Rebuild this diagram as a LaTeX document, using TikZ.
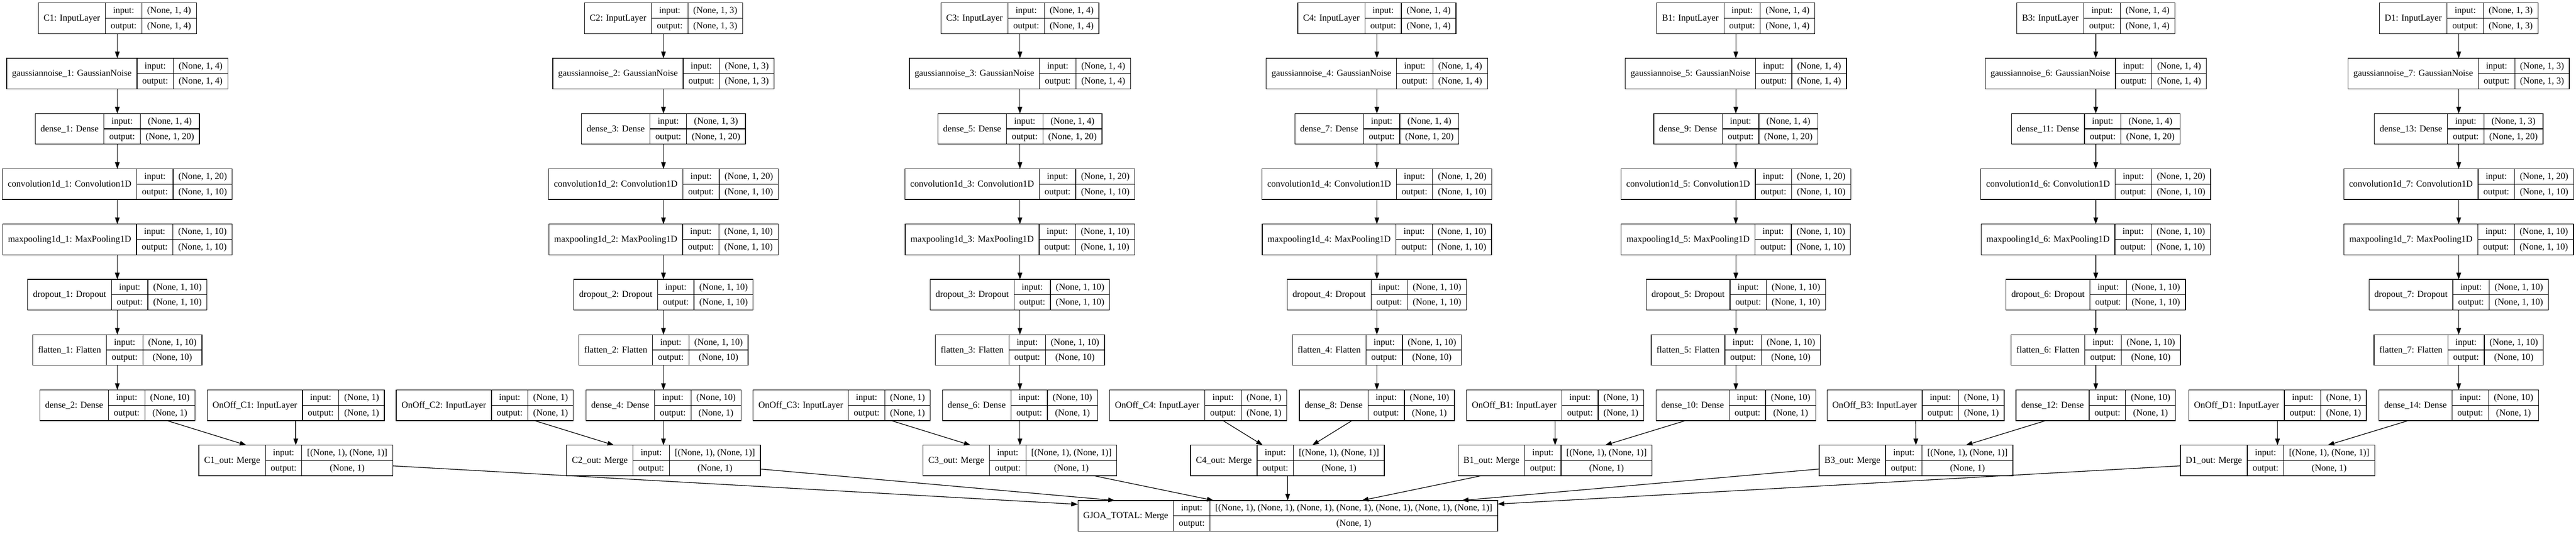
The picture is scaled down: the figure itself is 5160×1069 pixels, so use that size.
\documentclass[tikz,border=0pt]{standalone}
\usepackage{fontspec}
\setmainfont{Liberation Serif}
\usetikzlibrary{arrows.meta}
\newlength\recA
\newlength\recB
\newlength\recC
\newlength\recT
\newlength\recW
\newcommand\recfont{\fontsize{13.65}{16}\selectfont}
\tikzset{
  recbox/.style={draw, rectangle, line width=1pt, minimum height=46pt, inner sep=0pt, outer sep=0pt},
  rectxt/.style={inner sep=0pt, font=\recfont, text height=10pt, text depth=2pt, anchor=center},
  recline/.style={line width=1pt},
  arr/.style={line width=1pt, -{Triangle[length=10pt,width=7pt]}},
}
% measure a record (outside the picture): name, cx, cy, label, input shape, output shape
\newcommand\recmeasure[6]{%
  \settowidth\recA{\normalfont\recfont #4}\addtolength\recA{16pt}%
  \settowidth\recB{\normalfont\recfont output:}\addtolength\recB{16pt}%
  \settowidth\recC{\normalfont\recfont #5}\settowidth\recT{\normalfont\recfont #6}%
  \ifdim\recT>\recC \setlength\recC{\recT}\fi
  \addtolength\recC{16pt}%
  \expandafter\xdef\csname rA@#1\endcsname{\the\recA}%
  \expandafter\xdef\csname rB@#1\endcsname{\the\recB}%
  \expandafter\xdef\csname rC@#1\endcsname{\the\recC}%
}
% draw a record: name, cx, cy, label, input shape, output shape
\newcommand\recdraw[6]{%
  \setlength\recA{\csname rA@#1\endcsname}%
  \setlength\recB{\csname rB@#1\endcsname}%
  \setlength\recC{\csname rC@#1\endcsname}%
  \setlength\recW{\recA}\addtolength\recW{\recB}\addtolength\recW{\recC}%
  \node[recbox, minimum width=\recW] (#1) at (#2,#3) {};
  \draw[recline] ([xshift=\recA]#1.north west) -- ([xshift=\recA]#1.south west);
  \draw[recline] ([xshift=\recA+\recB]#1.north west) -- ([xshift=\recA+\recB]#1.south west);
  \draw[recline] ([xshift=\recA]#1.west) -- (#1.east);
  \node[rectxt] at ([xshift=0.5*\recA]#1.west) {#4};
  \node[rectxt] at ([xshift=\recA+0.5*\recB, yshift=-11.5pt]#1.north west) {input:};
  \node[rectxt] at ([xshift=\recA+0.5*\recB, yshift=11.5pt]#1.south west) {output:};
  \node[rectxt] at ([xshift=\recA+\recB+0.5*\recC, yshift=-11.5pt]#1.north west) {#5};
  \node[rectxt] at ([xshift=\recA+\recB+0.5*\recC, yshift=11.5pt]#1.south west) {#6};
}
\newcommand\allrecs[1]{%
  \foreach \k/\nm/\s/\cx/\ox/\mx in {1/C1/4/235/592.5/592.5, 2/C2/3/1329/971/1329, 3/C3/4/2043/1686/2043, 4/C4/4/2758/2400/2579, 5/B1/4/3477/3115/3115, 6/B3/4/4198/3837/3838, 7/D1/3/4925/4562/4562}{%
    \pgfmathtruncatemacro\da{2*\k-1}%
    \pgfmathtruncatemacro\db{2*\k}%
    #1{in\k}{\cx}{36.67}{\nm: InputLayer}{(None, 1, \s)}{(None, 1, \s)}%
    #1{gn\k}{\cx}{147.33}{gaussiannoise\_\k: GaussianNoise}{(None, 1, \s)}{(None, 1, \s)}%
    #1{da\k}{\cx}{258}{dense\_\da: Dense}{(None, 1, \s)}{(None, 1, 20)}%
    #1{cv\k}{\cx}{368.67}{convolution1d\_\k: Convolution1D}{(None, 1, 20)}{(None, 1, 10)}%
    #1{mp\k}{\cx}{479.33}{maxpooling1d\_\k: MaxPooling1D}{(None, 1, 10)}{(None, 1, 10)}%
    #1{dr\k}{\cx}{590}{dropout\_\k: Dropout}{(None, 1, 10)}{(None, 1, 10)}%
    #1{fl\k}{\cx}{700.67}{flatten\_\k: Flatten}{(None, 1, 10)}{(None, 10)}%
    #1{db\k}{\cx}{811.33}{dense\_\db: Dense}{(None, 10)}{(None, 1)}%
    #1{oo\k}{\ox}{811.33}{OnOff\_\nm: InputLayer}{(None, 1)}{(None, 1)}%
    #1{mg\k}{\mx}{922}{\nm\_out: Merge}{[(None, 1), (None, 1)]}{(None, 1)}%
  }%
  #1{tot}{2579.5}{1032.67}{GJOA\_TOTAL: Merge}{[(None, 1), (None, 1), (None, 1), (None, 1), (None, 1), (None, 1), (None, 1)]}{(None, 1)}%
}
\AtBeginDocument{\allrecs\recmeasure}
\begin{document}
\begin{tikzpicture}[x=0.75pt,y=-0.75pt]
\useasboundingbox (0,0) rectangle (5160,1069);
\allrecs\recdraw
\foreach \k in {1,...,7}{
  \draw[arr] (in\k) -- (gn\k);
  \draw[arr] (gn\k) -- (da\k);
  \draw[arr] (da\k) -- (cv\k);
  \draw[arr] (cv\k) -- (mp\k);
  \draw[arr] (mp\k) -- (dr\k);
  \draw[arr] (dr\k) -- (fl\k);
  \draw[arr] (fl\k) -- (db\k);
  \draw[arr] (db\k) -- (mg\k);
  \draw[arr] (oo\k) -- (mg\k);
  \draw[arr] (mg\k) -- (tot);
}
\end{tikzpicture}
\end{document}
